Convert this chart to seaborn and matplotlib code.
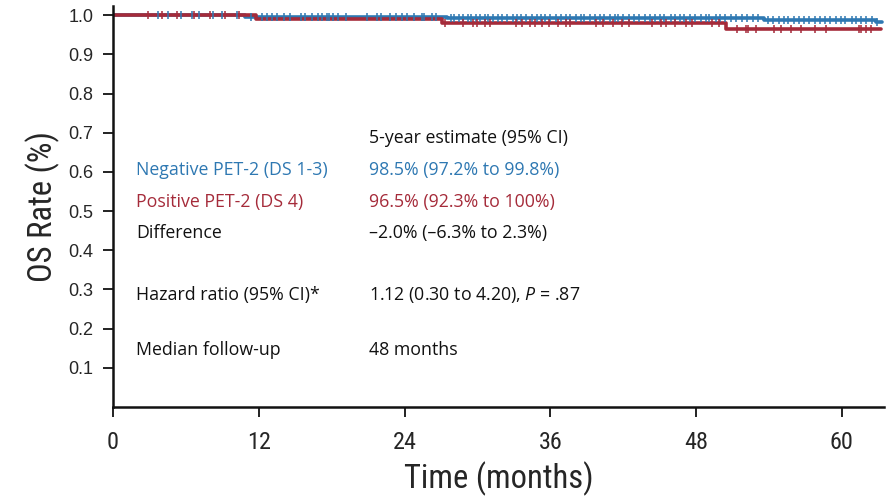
import numpy as np
import pandas as pd
import matplotlib
matplotlib.use("Agg")
import matplotlib.pyplot as plt
import seaborn as sns
from matplotlib import font_manager

# ---------------- data ----------------
neg_event_times = [0.0, 10.9, 27.5, 53.6, 62.8, 63.3]
neg_surv        = [1.0, 0.996, 0.993, 0.987, 0.984, 0.984]
pos_event_times = [0.0, 11.8, 27.1, 50.5, 63.2]
pos_surv        = [1.0, 0.990, 0.981, 0.966, 0.966]

neg_censor = [3.7, 4.5, 5.6, 6.5, 7.1, 8.2, 9.0, 10.2, 11.4,
              12.3, 12.7, 13.1, 13.5, 14.1, 14.6, 15.5, 15.8, 16.4, 16.9, 17.2,
              17.6, 17.8, 18.1, 18.5, 19.2, 20.9, 21.7, 22.1, 22.8, 23.3, 23.8,
              24.2, 24.8, 25.4, 25.6, 26.3, 26.6,
              27.8, 28.1, 28.5, 28.8, 29.2, 29.5, 29.9, 30.2, 30.6, 30.9, 31.3,
              31.7, 32.0, 32.4, 32.9, 33.3, 33.6, 34.0, 34.5, 34.9, 35.2, 35.6,
              36.0, 36.5, 36.9, 37.3, 37.6, 38.1, 38.5, 38.8, 39.3, 39.7, 40.1,
              40.4, 40.9, 41.3, 41.6, 42.0, 42.5, 42.9, 43.3, 43.8, 44.2, 44.6,
              45.0, 45.4, 45.9, 46.3, 46.7, 47.0, 47.5, 47.9, 48.4, 48.8, 49.1,
              49.6, 50.0, 50.4, 50.9, 51.3, 51.8, 52.2, 52.7, 53.1,
              53.9, 54.3, 54.8, 55.2, 55.6, 56.1, 56.5, 56.9, 57.3, 57.8, 58.2,
              58.6, 59.0, 59.5, 59.9, 60.3, 60.8, 61.2, 61.6, 62.0, 62.5, 62.9]
pos_censor = [2.9, 4.0, 5.3, 6.7, 8.0, 9.2, 10.4,
              27.3, 28.8, 29.6, 30.0, 30.6, 31.0, 33.2, 33.7, 34.3, 34.7, 35.3,
              35.9, 36.6, 37.3, 37.6, 39.8, 40.3, 41.2, 41.9, 42.5, 44.4, 45.1,
              45.5, 46.3, 47.2, 47.7, 49.3, 49.9,
              51.4, 52.1, 52.3, 52.9, 54.4, 55.0, 55.8, 56.6, 57.8, 58.7, 61.4,
              61.6, 62.0, 62.4]

group_names = ["Negative PET-2 (DS 1-3)", "Positive PET-2 (DS 4)"]
x_ticks = [0, 12, 24, 36, 48, 60]
y_ticks = [0.1, 0.2, 0.3, 0.4, 0.5, 0.6, 0.7, 0.8, 0.9, 1.0]

table_rows = [
    ("", "5-year estimate (95% CI)", "k"),
    ("Negative PET-2 (DS 1-3)", "98.5% (97.2% to 99.8%)", "blue"),
    ("Positive PET-2 (DS 4)", "96.5% (92.3% to 100%)", "red"),
    ("Difference", "\u20132.0% (\u20136.3% to 2.3%)", "k"),
    ("Hazard ratio (95% CI)*", "1.12 (0.30 to 4.20), $\\mathit{P}$ = .87", "k"),
    ("Median follow-up", "48 months", "k"),
]
row_y = [0.687, 0.605, 0.523, 0.444, 0.286, 0.146]

# ---------------- style ----------------
BLUE = "#2e78b2"
RED = "#a52b3a"
colors = {"blue": BLUE, "red": RED, "k": "#111111"}

sns.set_theme(style="white")
plt.rcParams["font.family"] = ["Liberation Sans", "DejaVu Sans"]
plt.rcParams["mathtext.fontset"] = "custom"
plt.rcParams["mathtext.it"] = "Open Sans:italic"
plt.rcParams["mathtext.rm"] = "Open Sans"

# choose a condensed face if one exists
names = {f.name for f in font_manager.fontManager.ttflist}
cond_family = None
for cand in ["Liberation Sans Narrow", "Roboto Condensed", "Open Sans Condensed",
             "DejaVu Sans Condensed", "Noto Sans Condensed"]:
    if cand in names:
        cond_family = cand
        break
cond_stretch = "normal"
if cond_family is None:
    for f in font_manager.fontManager.ttflist:
        if f.stretch in ("condensed", "semi-condensed") or (isinstance(f.stretch, int) and f.stretch < 500):
            cond_family = f.name
            cond_stretch = "condensed"
            break
if cond_family is None:
    cond_family = "Liberation Sans"
COND = dict(family=[cond_family, "DejaVu Sans"], stretch=cond_stretch, weight="normal")

fig = plt.figure(figsize=(8.91, 4.96), dpi=100)
ax = fig.add_axes([0.1268, 0.1794, 0.8652, 0.8086])

def step_df(times, surv, name):
    return pd.DataFrame({"time": times, "surv": surv, "group": name})

curves = pd.concat([step_df(neg_event_times, neg_surv, group_names[0]),
                    step_df(pos_event_times, pos_surv, group_names[1])])

palette = {group_names[0]: BLUE, group_names[1]: RED}
sns.lineplot(data=curves, x="time", y="surv", hue="group", palette=palette,
             drawstyle="steps-post", estimator=None, sort=False,
             linewidth=2.6, legend=False, ax=ax)

def censor_df(ctimes, times, surv, name):
    idx = np.searchsorted(np.array(times), np.array(ctimes), side="right") - 1
    return pd.DataFrame({"time": ctimes, "surv": np.array(surv)[idx], "group": name})

cens = pd.concat([censor_df(neg_censor, neg_event_times, neg_surv, group_names[0]),
                  censor_df(pos_censor, pos_event_times, pos_surv, group_names[1])])
for g in group_names:
    sub = cens[cens["group"] == g]
    sns.scatterplot(data=sub, x="time", y="surv", color=palette[g], marker="|",
                    s=32, linewidth=1.1, legend=False, ax=ax, zorder=3)

ax.set_xlim(0, 63.46)
ax.set_ylim(0, 1.0237)
ax.set_xticks(x_ticks)
ax.set_xticklabels([str(t) for t in x_ticks], fontsize=17.5, **COND)
ax.set_yticks(y_ticks)
ax.set_yticklabels([f"{t:.1f}" for t in y_ticks], fontsize=13)
ax.tick_params(axis="both", direction="out", length=7, width=1.3, color="#111111",
               bottom=True, left=True)
ax.tick_params(axis="x", pad=10)
ax.tick_params(axis="y", pad=7)

for s in ["top", "right"]:
    ax.spines[s].set_visible(False)
for s in ["left", "bottom"]:
    ax.spines[s].set_color("#111111")
    ax.spines[s].set_linewidth(1.8)

ax.set_xlabel("Time (months)", fontsize=23.5, labelpad=6, **COND)
ax.set_ylabel("OS Rate (%)", fontsize=23.5, labelpad=6, **COND)

for (lab, val, c), yv in zip(table_rows, row_y):
    if lab:
        ax.text(1.9, yv, lab, color=colors[c], fontsize=12.8, va="center", ha="left",
                family="Open Sans")
    ax.text(21.07, yv, val, color=colors[c], fontsize=12.8, va="center", ha="left",
            family="Open Sans")

fig.savefig("out.png", dpi=100)
